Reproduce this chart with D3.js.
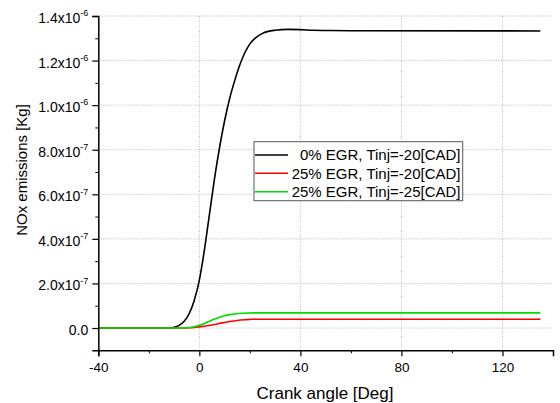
<!DOCTYPE html>
<html><head><meta charset="utf-8">
<script src="https://cdn.jsdelivr.net/npm/d3@7"></script>
<style>body{margin:0;background:#fff}svg{display:block}text{font-family:"Liberation Sans",Arial,sans-serif}</style>
</head><body>
<svg id="c" width="560" height="403"></svg>
<script>
// Data (NOx in units of 1e-6 kg)
const seriesNames = ["0% EGR, Tinj=-20[CAD]", "25% EGR, Tinj=-20[CAD]", "25% EGR, Tinj=-25[CAD]"];
const seriesColors = ["#000000", "#ff0000", "#00dd00"];
const blackX = [-40,-12,-10,-8,-6,-4,-2,0,2,4,6,8,10,12,14,16,18,20,22,25,30,35,40,45,50,60,135];
const blackY = [0,0,0.003,0.012,0.03,0.065,0.125,0.215,0.35,0.51,0.67,0.81,0.93,1.03,1.11,1.18,1.235,1.275,1.30,1.322,1.336,1.34,1.339,1.336,1.335,1.334,1.333];
const redX = [-40,-5,-2,0,3,6,9,12,15,18,21,135];
const redY = [0,0,0.002,0.005,0.01,0.016,0.023,0.029,0.034,0.037,0.039,0.039];
const greenX = [-40,-6,-4,-2,0,2,4,6,8,10,12,14,17,22,135];
const greenY = [0,0,0.002,0.006,0.012,0.02,0.03,0.04,0.048,0.055,0.06,0.063,0.066,0.068,0.068];
const xTicks = [-40,0,40,80,120];
const xMinorTicks = [-20,20,60,100,140];
const yTicks = [0,0.2,0.4,0.6,0.8,1.0,1.2,1.4];
const yMinorTicks = [0.1,0.3,0.5,0.7,0.9,1.1,1.3];
const yTickMant = ["0.0","2.0","4.0","6.0","8.0","1.0","1.2","1.4"];
const yTickExp = [null,"-7","-7","-7","-7","-6","-6","-6"];

const svg = d3.select("#c");
const L=98.3, R=553, T=16, B=350.3;
const x = d3.scaleLinear().domain([-40,140]).range([L,R]);
const y = d3.scaleLinear().domain([-0.1,1.4]).range([B,T]);

// grid
const g = svg.append("g");
g.selectAll(".hg").data(yTicks).join("line")
  .attr("x1",L).attr("x2",R).attr("y1",d=>y(d)).attr("y2",d=>y(d))
  .attr("stroke","#aaa").attr("stroke-width",0.8).attr("stroke-dasharray","1,1.5");
g.selectAll(".vg").data(xTicks.filter(d=>d>-40)).join("line")
  .attr("y1",T).attr("y2",B).attr("x1",d=>x(d)).attr("x2",d=>x(d))
  .attr("stroke","#aaa").attr("stroke-width",0.8).attr("stroke-dasharray","1,1.5");

// lines
const sets = [[blackX,blackY],[redX,redY],[greenX,greenY]];
const line = d3.line().x(d=>x(d[0])).y(d=>y(d[1])).curve(d3.curveMonotoneX);
sets.forEach((s,i)=>{
  svg.append("path").datum(s[0].map((v,j)=>[v,s[1][j]]))
    .attr("d",line).attr("fill","none").attr("stroke",seriesColors[i]).attr("stroke-width",1.6);
});

// axes
const xAxis = d3.axisBottom(x).tickValues(xTicks).tickSize(6).tickFormat(d=>d);
const xa = svg.append("g").attr("transform",`translate(0,${B})`).call(xAxis);
xa.select(".domain").attr("stroke-width",1.5);
xa.selectAll(".tick line").attr("stroke-width",1.2);
xa.selectAll(".tick text").attr("font-size",13.5).attr("y",21.4).attr("dy",null).attr("fill","#000");
const xMinor = d3.axisBottom(x).tickValues(xMinorTicks).tickSize(3).tickFormat("");
const xm = svg.append("g").attr("transform",`translate(0,${B})`).call(xMinor);
xm.select(".domain").remove();

const yAxis = d3.axisLeft(y).tickValues(yTicks).tickSize(6).tickFormat("");
const ya = svg.append("g").attr("transform",`translate(${L},0)`).call(yAxis);
ya.select(".domain").attr("stroke-width",1.5);
ya.selectAll(".tick line").attr("stroke-width",1.2);
ya.selectAll(".tick").each(function(d,i){
  const t = d3.select(this).append("text").attr("x",-10).attr("y",6.5)
    .attr("text-anchor","end").attr("font-size",14).attr("fill","#000");
  t.append("tspan").text(yTickExp[i] ? yTickMant[i]+"x10" : yTickMant[i]);
  if (yTickExp[i]) t.append("tspan").attr("font-size",9).attr("dy","-0.75em").text(yTickExp[i]);
});
const yMinor = d3.axisLeft(y).tickValues(yMinorTicks).tickSize(3).tickFormat("");
const ym = svg.append("g").attr("transform",`translate(${L},0)`).call(yMinor);
ym.select(".domain").remove();

// titles
svg.append("text").attr("x",325).attr("y",398.5).attr("text-anchor","middle")
  .attr("font-size",17).text("Crank angle [Deg]");
svg.append("text").attr("transform","translate(27,170) rotate(-90)").attr("text-anchor","middle")
  .attr("font-size",15).text("NOx emissions [Kg]");

// legend
const lg = svg.append("g");
lg.append("rect").attr("x",254).attr("y",141.7).attr("width",208.7).attr("height",59)
  .attr("fill","#fff").attr("stroke","#555").attr("stroke-width",1);
const rowY = [155,173.3,191.7];
seriesNames.forEach((n,i)=>{
  lg.append("line").attr("x1",255).attr("x2",288).attr("y1",rowY[i]).attr("y2",rowY[i])
    .attr("stroke",seriesColors[i]).attr("stroke-width",1.6);
  lg.append("text").attr("x",460.5).attr("y",rowY[i]).attr("dy","0.35em").attr("text-anchor","end")
    .attr("font-size",15).text(n);
});
</script>
</body></html>
